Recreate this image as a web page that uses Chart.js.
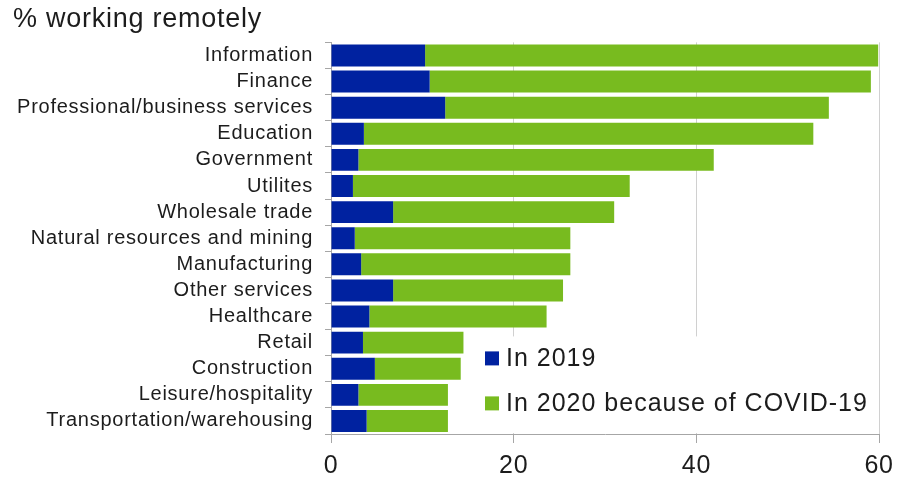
<!DOCTYPE html>
<html>
<head>
<meta charset="utf-8">
<script src="https://cdn.jsdelivr.net/npm/chart.js@4"></script>
<style>
  html, body { margin: 0; padding: 0; background: #ffffff; }
  #chart { display: block; }
</style>
</head>
<body>
<canvas id="chart" width="901" height="477"></canvas>
<script>
// Industries, top to bottom
const categories = [
  'Information',
  'Finance',
  'Professional/business services',
  'Education',
  'Government',
  'Utilites',
  'Wholesale trade',
  'Natural resources and mining',
  'Manufacturing',
  'Other services',
  'Healthcare',
  'Retail',
  'Construction',
  'Leisure/hospitality',
  'Transportation/warehousing'
];

// Share of workers already remote before the pandemic (%)
const remote2019 = [10.3, 10.8, 12.5, 3.6, 3.0, 2.4, 6.8, 2.6, 3.3, 6.8, 4.2, 3.5, 4.8, 3.0, 3.9];

// Additional share working remotely in 2020 because of COVID-19 (percentage points)
const added2020 = [49.6, 48.3, 42.0, 49.2, 38.9, 30.3, 24.2, 23.6, 22.9, 18.6, 19.4, 11.0, 9.4, 9.8, 8.9];

const seriesLabels = ['In 2019', 'In 2020 because of COVID-19'];
const xTicks = [0, 20, 40, 60];

const BLUE = '#0022a0';
const GREEN = '#78bb1f';
const TEXT = '#1c1c1c';
const AXIS = '#a6a6a6';
const GRID = '#d0d0d0';

Chart.defaults.font.family = "'Liberation Sans', Arial, sans-serif";
Chart.defaults.color = TEXT;

// Slightly open text tracking for the whole chart
const tracking = {
  id: 'tracking',
  beforeDraw(chart) { chart.ctx.letterSpacing = '0.75px'; }
};

// Legend box sitting inside the plot, lower right
const innerLegend = {
  id: 'innerLegend',
  afterDraw(chart) {
    const ctx = chart.ctx;
    const area = chart.chartArea;
    const boxLeft = area.left + 147;
    const boxTop = area.top + 294;
    ctx.save();
    ctx.fillStyle = '#ffffff';
    ctx.fillRect(boxLeft, boxTop, area.right - 5 - boxLeft, area.bottom - 1 - boxTop);
    ctx.font = "25px 'Liberation Sans', Arial, sans-serif";
    ctx.letterSpacing = '1px';
    ctx.textBaseline = 'middle';
    ctx.textAlign = 'left';
    chart.data.datasets.forEach((ds, i) => {
      const cy = boxTop + 22 + i * 45;
      ctx.fillStyle = ds.backgroundColor;
      ctx.fillRect(boxLeft + 7, cy - 7, 14, 14);
      ctx.fillStyle = TEXT;
      ctx.fillText(ds.label, boxLeft + 28, cy + 1);
    });
    ctx.restore();
  }
};

new Chart(document.getElementById('chart'), {
  type: 'bar',
  data: {
    labels: categories,
    datasets: [
      { label: seriesLabels[0], data: remote2019, backgroundColor: BLUE },
      { label: seriesLabels[1], data: added2020, backgroundColor: GREEN }
    ]
  },
  options: {
    indexAxis: 'y',
    responsive: false,
    animation: false,
    devicePixelRatio: 1,
    layout: { padding: { left: 13, right: 21, top: 0, bottom: 0 } },
    datasets: {
      bar: { categoryPercentage: 1, barPercentage: 0.84, borderWidth: 0 }
    },
    plugins: {
      legend: { display: false },
      tooltip: { enabled: false },
      title: {
        display: true,
        text: '% working remotely',
        align: 'start',
        color: TEXT,
        font: { size: 27, weight: 'normal' },
        padding: { top: 3, bottom: 7 }
      }
    },
    scales: {
      x: {
        stacked: true,
        min: 0,
        max: 60,
        afterBuildTicks(scale) { scale.ticks = xTicks.map(v => ({ value: v })); },
        afterFit(scale) { scale.height = 43; },
        grid: { color: GRID, tickColor: AXIS, tickLength: 9, lineWidth: 1 },
        border: { color: AXIS },
        ticks: { color: TEXT, font: { size: 25 }, padding: 8, maxRotation: 0 }
      },
      y: {
        stacked: true,
        afterFit(scale) { scale.width = 318; },
        grid: {
          offset: true,
          drawOnChartArea: false,
          tickColor: AXIS,
          tickLength: 6
        },
        border: { color: AXIS },
        ticks: { color: TEXT, font: { size: 20 }, padding: 12, autoSkip: false }
      }
    }
  },
  plugins: [tracking, innerLegend]
});
</script>
</body>
</html>
